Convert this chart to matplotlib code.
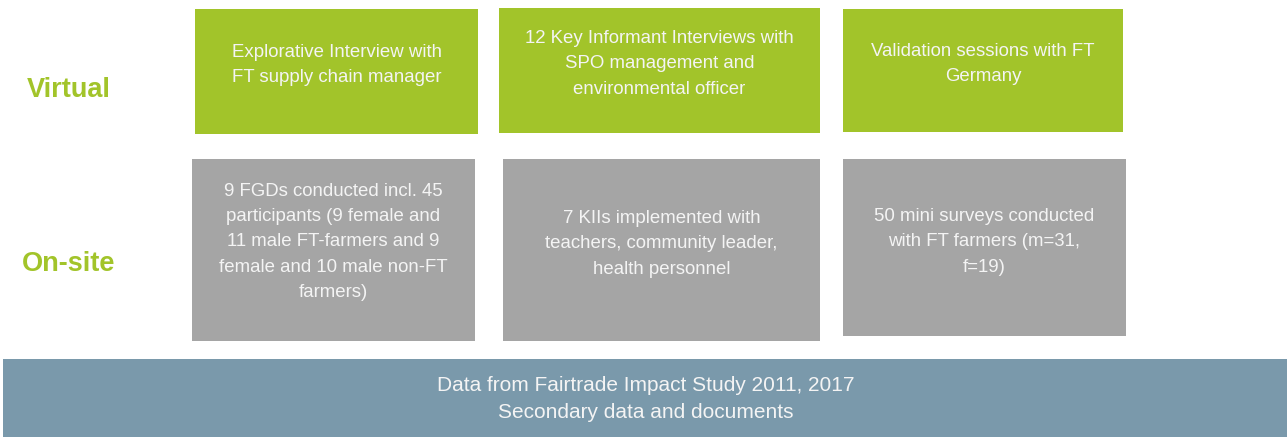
import matplotlib.pyplot as plt
from matplotlib.patches import Rectangle

plt.rcParams['font.family'] = ['Liberation Sans', 'DejaVu Sans']

# content
row_labels = ['Virtual', 'On-site']
virtual_items = [
    'Explorative Interview with\nFT supply chain manager',
    '12 Key Informant Interviews with\nSPO management and\nenvironmental officer',
    'Validation sessions with FT\nGermany',
]
onsite_items = [
    '9 FGDs conducted incl. 45\nparticipants (9 female and\n11 male FT-farmers and 9\nfemale and 10 male non-FT\nfarmers)',
    '7 KIIs implemented with\nteachers, community leader,\nhealth personnel',
    '50 mini surveys conducted\nwith FT farmers (m=31,\nf=19)',
]
base_text = 'Data from Fairtrade Impact Study 2011, 2017\nSecondary data and documents'

GREEN = '#A2C42A'
GREY = '#A5A5A5'
BLUE = '#7A99AB'
TXT = '#F4F4F4'

W, H = 1287, 437
fig = plt.figure(figsize=(W / 100, H / 100), dpi=100)
ax = fig.add_axes([0, 0, 1, 1])
ax.set_xlim(0, W)
ax.set_ylim(H, 0)
ax.axis('off')

# box layout in pixels: (x0, y0, x1, y1, text centre y)
virtual_boxes = [(195, 9, 478, 134, 65), (499, 8, 820, 133, 64), (843, 9, 1123, 132, 64)]
onsite_boxes = [(192, 159, 475, 341, 242), (503, 159, 820, 341, 244), (843, 159, 1126, 336, 242)]

def draw_box(box, text, color):
    x0, y0, x1, y1, ty = box
    ax.add_patch(Rectangle((x0, y0), x1 - x0, y1 - y0, facecolor=color, edgecolor='none'))
    ax.text((x0 + x1) / 2, ty, text, ha='center', va='center', color=TXT,
            fontsize=13.4, linespacing=1.62)

for box, t in zip(virtual_boxes, virtual_items):
    draw_box(box, t, GREEN)
for box, t in zip(onsite_boxes, onsite_items):
    draw_box(box, t, GREY)

ax.text(69, 90, row_labels[0], ha='center', va='center', color=GREEN,
        fontsize=19.5, fontweight='bold')
ax.text(69, 264, row_labels[1], ha='center', va='center', color=GREEN,
        fontsize=19.5, fontweight='bold')

ax.add_patch(Rectangle((3, 359), W - 3, H - 359, facecolor=BLUE, edgecolor='none'))
ax.text(646, 399, base_text, ha='center', va='center', color=TXT,
        fontsize=15, linespacing=1.5)

fig.savefig('out.png', dpi=100)
